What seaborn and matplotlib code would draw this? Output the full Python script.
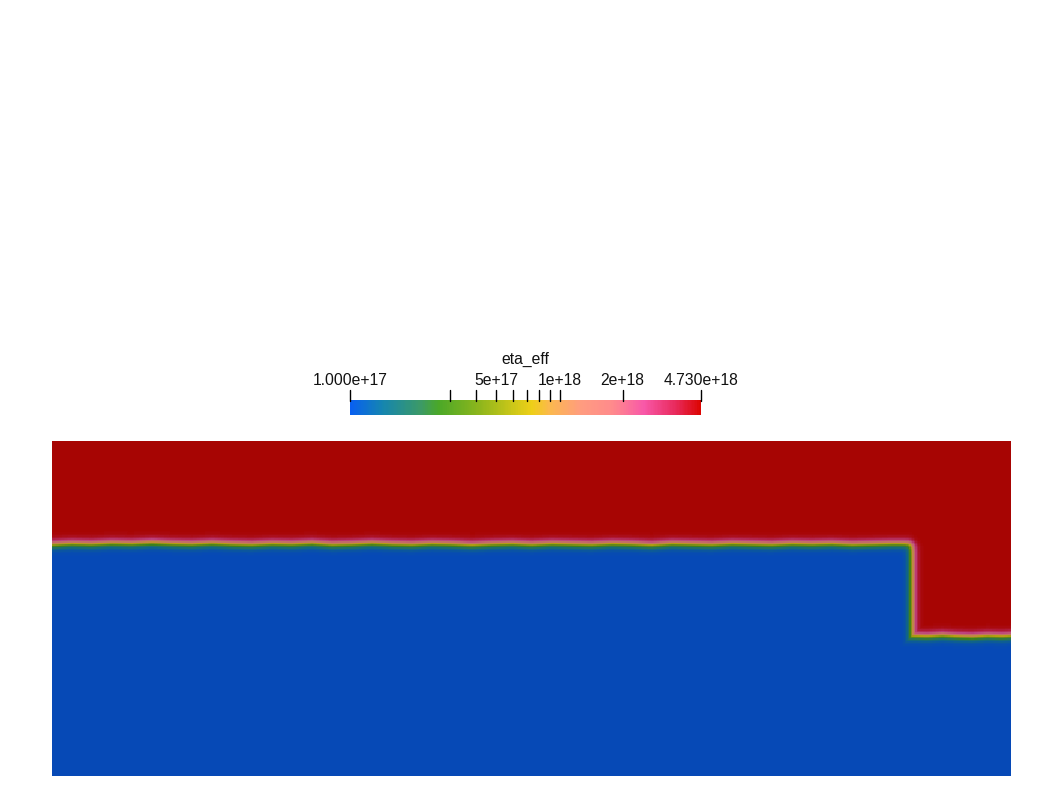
import numpy as np
import matplotlib
matplotlib.use("Agg")
import matplotlib.pyplot as plt
import seaborn as sns
from matplotlib.colors import LinearSegmentedColormap

sns.set_style("white")
plt.rcParams['font.family'] = ['Liberation Sans', 'DejaVu Sans']

# ---- data ----
eta_min = 1.0e17
eta_max = 4.73e18
# interface (depth below top of model, in grid units) along x, upper plateau
iface_x_left = [0, 20, 40, 60, 80, 100, 120, 140, 160, 180, 200, 220, 240, 260, 280, 300,
                320, 340, 360, 380, 400, 420, 440, 460, 480, 500, 520, 540, 560, 580, 600,
                620, 640, 660, 680, 700, 720, 740, 760, 780, 800, 820, 840, 860]
iface_d_left = [103.5, 102.5, 103, 102, 102.5, 101.5, 102.5, 103, 102, 103, 103.5, 102.5,
                103, 102, 103.5, 103, 102, 103, 103.5, 102.5, 103, 104, 103, 102.5, 103.5,
                102.5, 103, 103.5, 102.5, 103, 104, 102.5, 103, 103.5, 102.5, 103, 103.5,
                102.5, 103, 102.5, 103.5, 103, 102.5, 102.5]
# interface on the lower (right) step
iface_x_right = [860, 875, 890, 905, 920, 935, 950, 959]
iface_d_right = [195, 195.5, 194.5, 195.5, 196, 195, 195.5, 195]
step_x = 860
model_width = 959
model_depth = 335

tick_values = [1e17, 3e17, 4e17, 5e17, 6e17, 7e17, 8e17, 9e17, 1e18, 2e18, 4.73e18]
tick_labels = {1e17: "1.000e+17", 5e17: "5e+17", 1e18: "1e+18", 2e18: "2e+18", 4.73e18: "4.730e+18"}
cbar_title = "eta_eff"

# colormap stops (position, colour)
cmap_pos = [0.0, 0.09, 0.2, 0.25, 0.37, 0.47, 0.52, 0.57, 0.66, 0.75, 0.84, 0.93, 1.0]
cmap_col = ["#0860f0", "#1585b0", "#3c9a66", "#4aa828", "#8fb61c", "#d0c818", "#efcf18",
            "#fbb84e", "#ff9c80", "#ff8a8c", "#f858a8", "#e82a5c", "#dc0604"]

cmap_bar = LinearSegmentedColormap.from_list("bar", list(zip(cmap_pos, cmap_col)))
shade = 0.76
dark_cols = [tuple(c * shade for c in matplotlib.colors.to_rgb(h)) for h in cmap_col]
cmap_field = LinearSegmentedColormap.from_list("field", list(zip(cmap_pos, dark_cols)))

lo, hi = np.log10(eta_min), np.log10(eta_max)

# ---- field grid ----
nx, ny = 640, 224
xc = (np.arange(nx) + 0.5) * model_width / nx
yc = (np.arange(ny) + 0.5) * model_depth / ny
X, Y = np.meshgrid(xc, yc)
hl = np.interp(xc, iface_x_left, iface_d_left)[None, :]
hr = np.interp(xc, iface_x_right, iface_d_right)[None, :]
w = 4.3
s = lambda d: 0.5 + 0.5 * np.tanh(d / w)
blue = np.maximum(s(Y - hl) * s(step_x - X), s(Y - hr))
logeta = hi - blue * (hi - lo)

W, H = 1064, 802
fig = plt.figure(figsize=(W / 100, H / 100), dpi=100)
ax = fig.add_axes([52 / W, (H - 776) / H, 959 / W, 335 / H])
sns.heatmap(logeta, ax=ax, cmap=cmap_field, vmin=lo, vmax=hi, cbar=False,
            xticklabels=False, yticklabels=False, rasterized=True)
ax.set_axis_off()

# ---- colour bar ----
bx0, bx1, by0, by1 = 350, 701, 400, 415
cax = fig.add_axes([bx0 / W, (H - by1) / H, (bx1 - bx0) / W, (by1 - by0) / H])
grad = np.linspace(lo, hi, 400)[None, :]
sns.heatmap(grad, ax=cax, cmap=cmap_bar, vmin=lo, vmax=hi, cbar=False,
            xticklabels=False, yticklabels=False, rasterized=True)
cax.set_axis_off()

tax = fig.add_axes([0, 0, 1, 1])
tax.set_xlim(0, W)
tax.set_ylim(H, 0)
tax.set_axis_off()
for v in tick_values:
    px = bx0 + (np.log10(v) - lo) / (hi - lo) * (bx1 - bx0)
    tax.plot([px, px], [by0 + 1, by0 - 10], color="black", lw=1)
    if v in tick_labels:
        tax.text(px, 385, tick_labels[v], ha="center", va="baseline", fontsize=11.3, color="#111111")
tax.text((bx0 + bx1) / 2, 364, cbar_title, ha="center", va="baseline", fontsize=11.3, color="#111111")

fig.savefig("out.png", dpi=100)
